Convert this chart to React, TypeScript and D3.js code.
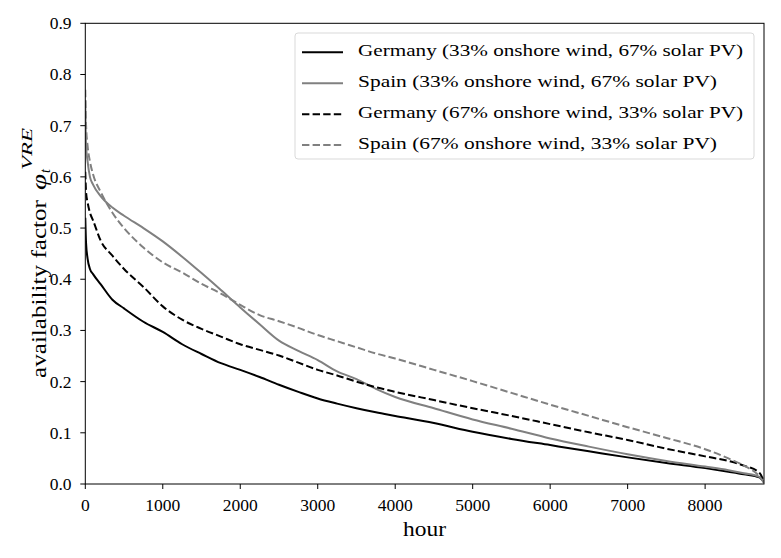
import React from "react";
import * as d3 from "d3";

const hours = [0, 10, 30, 60, 100, 200, 350, 500, 750, 1000, 1250, 1500, 1750, 2000, 2250, 2500, 2750, 3000, 3250, 3500, 3750, 4000, 4500, 5000, 5500, 6000, 6500, 7000, 7500, 8000, 8300, 8500, 8700, 8760];

const germany33 = [0.52, 0.47, 0.44, 0.42, 0.41, 0.39, 0.36, 0.343, 0.317, 0.297, 0.273, 0.254, 0.236, 0.223, 0.209, 0.194, 0.18, 0.167, 0.157, 0.148, 0.14, 0.133, 0.119, 0.102, 0.088, 0.076, 0.064, 0.052, 0.041, 0.031, 0.024, 0.019, 0.013, 0.003];
const spain33 = [0.75, 0.66, 0.63, 0.6, 0.585, 0.562, 0.54, 0.524, 0.5, 0.474, 0.444, 0.412, 0.379, 0.345, 0.312, 0.28, 0.26, 0.242, 0.22, 0.205, 0.186, 0.17, 0.148, 0.126, 0.108, 0.089, 0.073, 0.058, 0.045, 0.034, 0.027, 0.021, 0.014, 0.003];
const germany67 = [0.61, 0.57, 0.55, 0.53, 0.515, 0.475, 0.446, 0.42, 0.385, 0.347, 0.321, 0.303, 0.288, 0.273, 0.262, 0.251, 0.237, 0.223, 0.212, 0.2, 0.189, 0.18, 0.164, 0.148, 0.133, 0.117, 0.101, 0.086, 0.069, 0.054, 0.045, 0.036, 0.022, 0.004];
const spain67 = [0.77, 0.7, 0.66, 0.63, 0.605, 0.57, 0.53, 0.5, 0.462, 0.433, 0.413, 0.391, 0.372, 0.35, 0.33, 0.318, 0.305, 0.291, 0.279, 0.267, 0.255, 0.245, 0.223, 0.201, 0.178, 0.155, 0.133, 0.111, 0.09, 0.068, 0.05, 0.036, 0.015, 0.003];

const seriesNames = [
  "Germany (33% onshore wind, 67% solar PV)",
  "Spain (33% onshore wind, 67% solar PV)",
  "Germany (67% onshore wind, 33% solar PV)",
  "Spain (67% onshore wind, 33% solar PV)",
];
const seriesValues = [germany33, spain33, germany67, spain67];
const seriesColors = ["#000000", "#808080", "#000000", "#808080"];
const seriesDashed = [false, false, true, true];

const xTicks = [0, 1000, 2000, 3000, 4000, 5000, 6000, 7000, 8000];
const yTicks = [0.0, 0.1, 0.2, 0.3, 0.4, 0.5, 0.6, 0.7, 0.8, 0.9];

const W = 781;
const H = 558;
const left = 85.3;
const right = 764;
const top = 23.3;
const bottom = 484;
const font = "'Liberation Serif', 'DejaVu Serif', serif";

export default function App() {
  const x = d3.scaleLinear().domain([0, 8760]).range([left, right]);
  const y = d3.scaleLinear().domain([0, 0.9]).range([bottom, top]);
  const line = d3
    .line<number>()
    .x((_, i) => x(hours[i]))
    .y((d) => y(d))
    .curve(d3.curveMonotoneX);

  const legendRows = [52.3, 83.3, 114.3, 145];
  const legendLengths = [385, 359, 385, 359];

  return (
    <svg
      width={W}
      height={H}
      style={{ position: "absolute", left: 0, top: 0, background: "#fff" }}
      fontFamily={font}
    >
      <rect x={0} y={0} width={W} height={H} fill="#fff" />
      <defs>
        <clipPath id="plotclip">
          <rect x={left} y={top} width={right - left} height={bottom - top} />
        </clipPath>
      </defs>
      <g clipPath="url(#plotclip)">
        {seriesValues.map((vals, k) => (
          <path
            key={k}
            d={line(vals) || ""}
            fill="none"
            stroke={seriesColors[k]}
            strokeWidth={2}
            strokeDasharray={seriesDashed[k] ? "7.4,3.2" : undefined}
            strokeLinejoin="round"
          />
        ))}
      </g>
      <rect x={left} y={top} width={right - left} height={bottom - top} fill="none" stroke="#000" strokeWidth={1} />
      {xTicks.map((t) => (
        <g key={"x" + t}>
          <line x1={x(t)} x2={x(t)} y1={bottom} y2={bottom + 5} stroke="#000" strokeWidth={1} />
          <text x={x(t)} y={511} textAnchor="middle" fontSize={17.5} fill="#000">
            {t}
          </text>
        </g>
      ))}
      {yTicks.map((t) => (
        <g key={"y" + t}>
          <line x1={left - 5} x2={left} y1={y(t)} y2={y(t)} stroke="#000" strokeWidth={1} />
          <text x={71.5} y={y(t) + 6} textAnchor="end" fontSize={17.5} fill="#000">
            {t.toFixed(1)}
          </text>
        </g>
      ))}
      <text x={424.5} y={536} textAnchor="middle" fontSize={22} textLength={43} lengthAdjust="spacingAndGlyphs" fill="#000">
        hour
      </text>
      <g transform="translate(46,378) rotate(-90)" fill="#000">
        <text x={0} y={0} fontSize={21} textLength={178} lengthAdjust="spacingAndGlyphs">
          availability factor
        </text>
        <text x={188} y={0} fontSize={21} fontStyle="italic" textLength={16} lengthAdjust="spacingAndGlyphs">
          φ
        </text>
        <text x={205} y={4} fontSize={14} fontStyle="italic">
          t
        </text>
        <text x={208} y={-14} fontSize={15} fontStyle="italic" textLength={42} lengthAdjust="spacingAndGlyphs">
          VRE
        </text>
      </g>
      <rect x={295} y={33} width={459} height={126} rx={3} fill="#fff" fillOpacity={0.8} stroke="#d9d9d9" strokeWidth={1} />
      {seriesNames.map((name, k) => (
        <g key={name}>
          <line
            x1={302}
            x2={343}
            y1={legendRows[k]}
            y2={legendRows[k]}
            stroke={seriesColors[k]}
            strokeWidth={2}
            strokeDasharray={seriesDashed[k] ? "7.4,3.2" : undefined}
          />
          <text
            x={358}
            y={legendRows[k] + 4}
            fontSize={17.5}
            textLength={legendLengths[k]}
            lengthAdjust="spacingAndGlyphs"
            fill="#000"
          >
            {name}
          </text>
        </g>
      ))}
    </svg>
  );
}
